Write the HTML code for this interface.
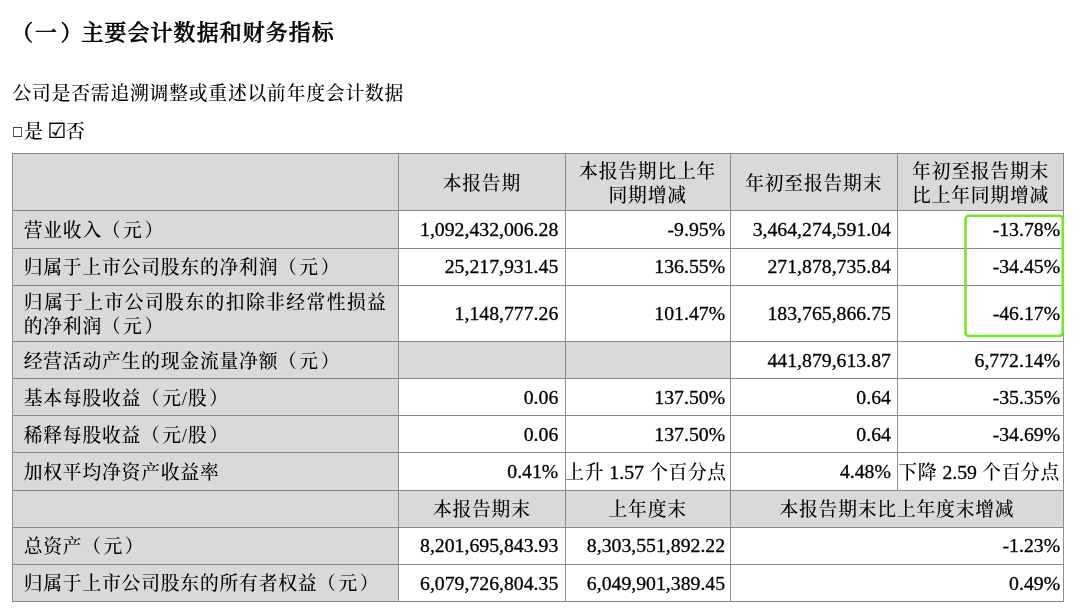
<!DOCTYPE html>
<html lang="zh-CN">
<head>
<meta charset="utf-8">
<title>主要会计数据和财务指标</title>
<style>
html,body{margin:0;padding:0;background:#fff;}
body{width:1080px;height:611px;position:relative;overflow:hidden;color:#000;
 font-family:"Liberation Serif","Noto Serif CJK SC",serif;font-size:18.8px;letter-spacing:0.8px;line-height:24px;font-weight:500;}
.title{position:absolute;left:12.9px;top:15.9px;font-size:21.9px;font-weight:500;-webkit-text-stroke:0.55px #000;line-height:34px;white-space:nowrap;letter-spacing:1.15px;}
.p{position:absolute;left:12.5px;white-space:nowrap;line-height:24px;}
.c{position:absolute;box-sizing:border-box;display:flex;align-items:center;white-space:nowrap;}
.c>span{display:block;width:100%;}
.g{background:#d9d9d9;}
.h{justify-content:center;text-align:center;padding-top:3.4px;}
.l{padding-left:11.4px;text-align:left;padding-top:3.4px;}
.n{padding-right:7px;text-align:right;-webkit-text-stroke:0.3px #000;padding-bottom:0.3px;font-size:19.75px;letter-spacing:0;}
.t{letter-spacing:0.6px;font-size:18.8px;-webkit-text-stroke:0;padding-top:2.2px;}
.t b{font-weight:inherit;font-size:19.75px;letter-spacing:0;-webkit-text-stroke:0.3px #000;}
.j i{display:block;font-style:normal;text-align:justify;text-align-last:justify;width:363px;}
.hl{position:absolute;height:1px;background:#858585;}
.vl{position:absolute;width:1px;background:#8c8c8c;}
.gb{position:absolute;left:960px;top:210px;width:110px;height:132px;overflow:visible;}
.sq{font-family:"DejaVu Sans",sans-serif;font-size:11.8px;font-weight:400;display:inline-block;width:11.6px;text-align:center;position:relative;top:-2.4px;left:-0.6px;line-height:1;}
.ck{font-family:"DejaVu Sans",sans-serif;font-size:20.8px;font-weight:400;display:inline-block;width:16.2px;text-align:center;position:relative;top:0.4px;left:-1.6px;margin-right:0.6px;line-height:1;-webkit-text-stroke:0.2px #000;}
.po{margin-right:1.5px;position:relative;left:-0.3px;}
.pc{margin-left:1.7px;}
.pl{position:relative;left:-1.7px;}
.pr{position:relative;left:1.4px;}
.pm{position:relative;left:-1px;}
.pz{margin-left:-0.6px;}
</style>
</head>
<body>
<div class="title"><span class="pl">（</span><span class="pm">一</span><span class="pr">）</span><span class="pz">主</span>要会计数据和财务指标</div>
<div class="p" style="top:82px">公司是否需追溯调整或重述以前年度会计数据</div>
<div class="p" style="top:119.7px"><span class="sq">□</span>是 <span class="ck">☑</span>否</div>
<div class="c g h" style="left:12.30px;top:153.40px;width:386.10px;height:57.40px;"><span></span></div>
<div class="c g h" style="left:398.40px;top:153.40px;width:166.90px;height:57.40px;"><span>本报告期</span></div>
<div class="c g h" style="left:565.30px;top:153.40px;width:164.70px;height:57.40px;"><span>本报告期比上年<br>同期增减</span></div>
<div class="c g h" style="left:730.00px;top:153.40px;width:167.40px;height:57.40px;"><span>年初至报告期末</span></div>
<div class="c g h" style="left:897.40px;top:153.40px;width:166.40px;height:57.40px;"><span>年初至报告期末<br>比上年同期增减</span></div>
<div class="c g l" style="left:12.30px;top:210.80px;width:386.10px;height:37.20px;"><span>营业收入<span class="po">（</span>元<span class="pc">）</span></span></div>
<div class="c n" style="left:398.40px;top:210.80px;width:166.90px;height:37.20px;padding-right:7.0px;"><span>1,092,432,006.28</span></div>
<div class="c n" style="left:565.30px;top:210.80px;width:164.70px;height:37.20px;padding-right:4.9px;"><span>-9.95%</span></div>
<div class="c n" style="left:730.00px;top:210.80px;width:167.40px;height:37.20px;padding-right:6.5px;"><span>3,464,274,591.04</span></div>
<div class="c n" style="left:897.40px;top:210.80px;width:166.40px;height:37.20px;padding-right:3.7px;"><span>-13.78%</span></div>
<div class="c g l" style="left:12.30px;top:248.00px;width:386.10px;height:37.20px;"><span>归属于上市公司股东的净利润<span class="po">（</span>元<span class="pc">）</span></span></div>
<div class="c n" style="left:398.40px;top:248.00px;width:166.90px;height:37.20px;padding-right:7.0px;"><span>25,217,931.45</span></div>
<div class="c n" style="left:565.30px;top:248.00px;width:164.70px;height:37.20px;padding-right:4.9px;"><span>136.55%</span></div>
<div class="c n" style="left:730.00px;top:248.00px;width:167.40px;height:37.20px;padding-right:6.5px;"><span>271,878,735.84</span></div>
<div class="c n" style="left:897.40px;top:248.00px;width:166.40px;height:37.20px;padding-right:3.7px;"><span>-34.45%</span></div>
<div class="c g l j" style="left:12.30px;top:285.20px;width:386.10px;height:56.40px;"><span><i>归属于上市公司股东的扣除非经常性损益</i>的净利润<span class="po">（</span>元<span class="pc">）</span></span></div>
<div class="c n" style="left:398.40px;top:285.20px;width:166.90px;height:56.40px;padding-right:7.0px;"><span>1,148,777.26</span></div>
<div class="c n" style="left:565.30px;top:285.20px;width:164.70px;height:56.40px;padding-right:4.9px;"><span>101.47%</span></div>
<div class="c n" style="left:730.00px;top:285.20px;width:167.40px;height:56.40px;padding-right:6.5px;"><span>183,765,866.75</span></div>
<div class="c n" style="left:897.40px;top:285.20px;width:166.40px;height:56.40px;padding-right:3.7px;"><span>-46.17%</span></div>
<div class="c g l" style="left:12.30px;top:341.60px;width:386.10px;height:37.10px;"><span>经营活动产生的现金流量净额<span class="po">（</span>元<span class="pc">）</span></span></div>
<div class="c g" style="left:398.40px;top:341.60px;width:166.90px;height:37.10px;"><span></span></div>
<div class="c g" style="left:565.30px;top:341.60px;width:164.70px;height:37.10px;"><span></span></div>
<div class="c n" style="left:730.00px;top:341.60px;width:167.40px;height:37.10px;padding-right:6.5px;"><span>441,879,613.87</span></div>
<div class="c n" style="left:897.40px;top:341.60px;width:166.40px;height:37.10px;padding-right:3.7px;"><span>6,772.14%</span></div>
<div class="c g l" style="left:12.30px;top:378.70px;width:386.10px;height:37.10px;"><span>基本每股收益<span class="po">（</span>元/股<span class="pc">）</span></span></div>
<div class="c n" style="left:398.40px;top:378.70px;width:166.90px;height:37.10px;padding-right:7.0px;"><span>0.06</span></div>
<div class="c n" style="left:565.30px;top:378.70px;width:164.70px;height:37.10px;padding-right:4.9px;"><span>137.50%</span></div>
<div class="c n" style="left:730.00px;top:378.70px;width:167.40px;height:37.10px;padding-right:6.5px;"><span>0.64</span></div>
<div class="c n" style="left:897.40px;top:378.70px;width:166.40px;height:37.10px;padding-right:3.7px;"><span>-35.35%</span></div>
<div class="c g l" style="left:12.30px;top:415.80px;width:386.10px;height:37.10px;"><span>稀释每股收益<span class="po">（</span>元/股<span class="pc">）</span></span></div>
<div class="c n" style="left:398.40px;top:415.80px;width:166.90px;height:37.10px;padding-right:7.0px;"><span>0.06</span></div>
<div class="c n" style="left:565.30px;top:415.80px;width:164.70px;height:37.10px;padding-right:4.9px;"><span>137.50%</span></div>
<div class="c n" style="left:730.00px;top:415.80px;width:167.40px;height:37.10px;padding-right:6.5px;"><span>0.64</span></div>
<div class="c n" style="left:897.40px;top:415.80px;width:166.40px;height:37.10px;padding-right:3.7px;"><span>-34.69%</span></div>
<div class="c g l" style="left:12.30px;top:452.90px;width:386.10px;height:37.10px;"><span>加权平均净资产收益率</span></div>
<div class="c n" style="left:398.40px;top:452.90px;width:166.90px;height:37.10px;padding-right:7.0px;"><span>0.41%</span></div>
<div class="c n t" style="left:565.30px;top:452.90px;width:164.70px;height:37.10px;padding-right:6.5px;"><span>上升 <b>1.57</b> 个百分点</span></div>
<div class="c n" style="left:730.00px;top:452.90px;width:167.40px;height:37.10px;padding-right:6.5px;"><span>4.48%</span></div>
<div class="c n t" style="left:897.40px;top:452.90px;width:166.40px;height:37.10px;padding-right:4.0px;"><span>下降 <b>2.59</b> 个百分点</span></div>
<div class="c g h" style="left:12.30px;top:490.00px;width:386.10px;height:37.10px;"><span></span></div>
<div class="c g h" style="left:398.40px;top:490.00px;width:166.90px;height:37.10px;"><span>本报告期末</span></div>
<div class="c g h" style="left:565.30px;top:490.00px;width:164.70px;height:37.10px;"><span>上年度末</span></div>
<div class="c g h" style="left:730.00px;top:490.00px;width:333.80px;height:37.10px;"><span>本报告期末比上年度末增减</span></div>
<div class="c g l" style="left:12.30px;top:527.10px;width:386.10px;height:37.10px;"><span>总资产<span class="po">（</span>元<span class="pc">）</span></span></div>
<div class="c n" style="left:398.40px;top:527.10px;width:166.90px;height:37.10px;padding-right:7.0px;"><span>8,201,695,843.93</span></div>
<div class="c n" style="left:565.30px;top:527.10px;width:164.70px;height:37.10px;padding-right:4.9px;"><span>8,303,551,892.22</span></div>
<div class="c n" style="left:730.00px;top:527.10px;width:333.80px;height:37.10px;padding-right:3.7px;"><span>-1.23%</span></div>
<div class="c g l" style="left:12.30px;top:564.20px;width:386.10px;height:37.10px;"><span>归属于上市公司股东的所有者权益<span class="po">（</span>元<span class="pc">）</span></span></div>
<div class="c n" style="left:398.40px;top:564.20px;width:166.90px;height:37.10px;padding-right:7.0px;"><span>6,079,726,804.35</span></div>
<div class="c n" style="left:565.30px;top:564.20px;width:164.70px;height:37.10px;padding-right:4.9px;"><span>6,049,901,389.45</span></div>
<div class="c n" style="left:730.00px;top:564.20px;width:333.80px;height:37.10px;padding-right:3.7px;"><span>0.49%</span></div>
<div class="hl" style="left:11.80px;top:152.90px;width:1052.50px"></div>
<div class="hl" style="left:11.80px;top:210.30px;width:1052.50px"></div>
<div class="hl" style="left:11.80px;top:247.50px;width:1052.50px"></div>
<div class="hl" style="left:11.80px;top:284.70px;width:1052.50px"></div>
<div class="hl" style="left:11.80px;top:341.10px;width:1052.50px"></div>
<div class="hl" style="left:11.80px;top:378.20px;width:1052.50px"></div>
<div class="hl" style="left:11.80px;top:415.30px;width:1052.50px"></div>
<div class="hl" style="left:11.80px;top:452.40px;width:1052.50px"></div>
<div class="hl" style="left:11.80px;top:489.50px;width:1052.50px"></div>
<div class="hl" style="left:11.80px;top:526.60px;width:1052.50px"></div>
<div class="hl" style="left:11.80px;top:563.70px;width:1052.50px"></div>
<div class="hl" style="left:11.80px;top:600.80px;width:1052.50px"></div>
<div class="vl" style="left:11.80px;top:152.90px;height:448.90px"></div>
<div class="vl" style="left:397.90px;top:152.90px;height:448.90px"></div>
<div class="vl" style="left:564.80px;top:152.90px;height:448.90px"></div>
<div class="vl" style="left:729.50px;top:152.90px;height:448.90px"></div>
<div class="vl" style="left:896.90px;top:153.40px;height:336.60px"></div>
<div class="vl" style="left:1063.30px;top:152.90px;height:448.90px"></div>
<svg class="gb" width="110" height="132" viewBox="960 210 110 132"><rect x="965.5" y="215.7" width="97.3" height="120.3" rx="3.4" ry="3.4" fill="none" stroke="#7ae233" stroke-width="2.6"/></svg>
</body>
</html>
